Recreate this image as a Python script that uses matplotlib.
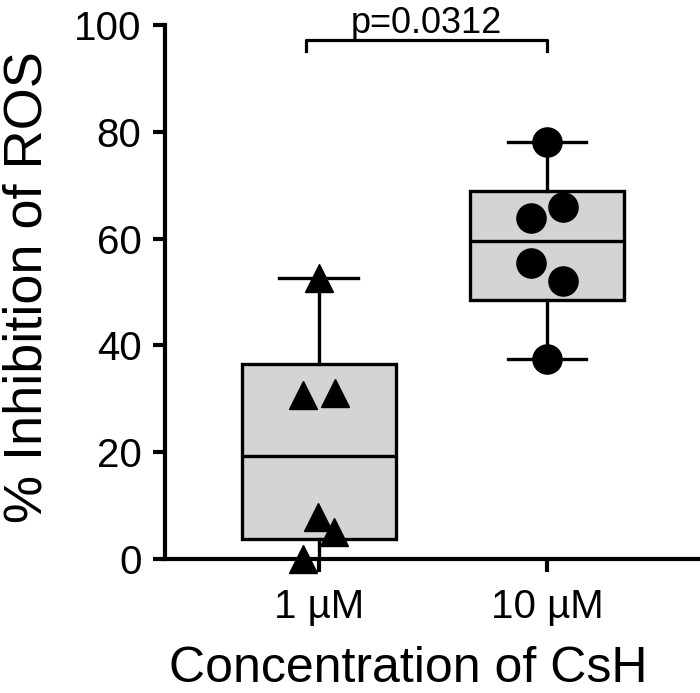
import numpy as np
import matplotlib
matplotlib.use("Agg")
import matplotlib.pyplot as plt

plt.rcParams['font.family'] = ['Liberation Sans', 'DejaVu Sans']

# data (% inhibition of ROS)
groups = ['1 µM', '10 µM']
vals_1uM = [0.0, 5.1, 7.9, 30.7, 31.1, 52.6]
vals_10uM = [37.5, 52.1, 55.4, 63.8, 65.9, 78.1]
p_text = 'p=0.0312'

# horizontal scatter layout of the points (Prism style), in x units
jitter_1uM = [-0.07, 0.066, -0.005, -0.07, 0.07, 0.0]
jitter_10uM = [0.0, 0.07, -0.07, -0.07, 0.07, 0.0]

fig = plt.figure(figsize=(7, 6.93), dpi=100)
ax = fig.add_axes([165 / 700, 1 - 559 / 693, 533 / 700, 534 / 693])

# Prism-like box stats: quartiles with (n+1)p rule, whiskers min..max
stats = []
for name, v in zip(groups, [vals_1uM, vals_10uM]):
    q1, med, q3 = np.percentile(v, [25, 50, 75], method='weibull')
    stats.append(dict(label=name, med=med, q1=q1, q3=q3,
                      whislo=min(v), whishi=max(v), fliers=[]))

lw = 2.4
ax.bxp(stats, positions=[1, 2], widths=0.675, patch_artist=True,
       showfliers=False, capwidths=0.346,
       boxprops=dict(facecolor='#d4d4d4', edgecolor='black', linewidth=lw),
       medianprops=dict(color='black', linewidth=lw),
       whiskerprops=dict(color='black', linewidth=lw),
       capprops=dict(color='black', linewidth=lw))

ax.plot(1 + np.array(jitter_1uM), vals_1uM, '^', color='black', ms=20,
        ls='none', clip_on=False, zorder=5)
ax.plot(2 + np.array(jitter_10uM), vals_10uM, 'o', color='black', ms=21,
        ls='none', clip_on=False, zorder=5)

# significance bracket
yb = 97.2
ax.plot([0.943, 0.943, 2.0, 2.0], [yb - 2.0, yb, yb, yb - 2.0], color='black',
        lw=2.3, clip_on=False)
ax.text(1.47, 98.5, p_text, ha='center', va='baseline', fontsize=26)

ax.set_xlim(0.325, 2.662)
ax.set_ylim(0, 100)
ax.set_yticks([0, 20, 40, 60, 80, 100])
ax.set_xticks([1, 2])
ax.set_xticklabels(groups)

for s in ['top', 'right']:
    ax.spines[s].set_visible(False)
for s in ['left', 'bottom']:
    ax.spines[s].set_linewidth(3)
ax.tick_params(axis='both', direction='out', length=9, width=3, labelsize=29)
ax.tick_params(axis='y', pad=8)
ax.tick_params(axis='x', pad=12)

fig.text(28 / 700, 1 - 287 / 693, '% Inhibition of ROS', rotation=90,
         ha='center', va='center', fontsize=39)
fig.text(408 / 700, 1 - 682 / 693, 'Concentration of CsH', ha='center',
         va='baseline', fontsize=36)

fig.savefig('out.png', dpi=100)
